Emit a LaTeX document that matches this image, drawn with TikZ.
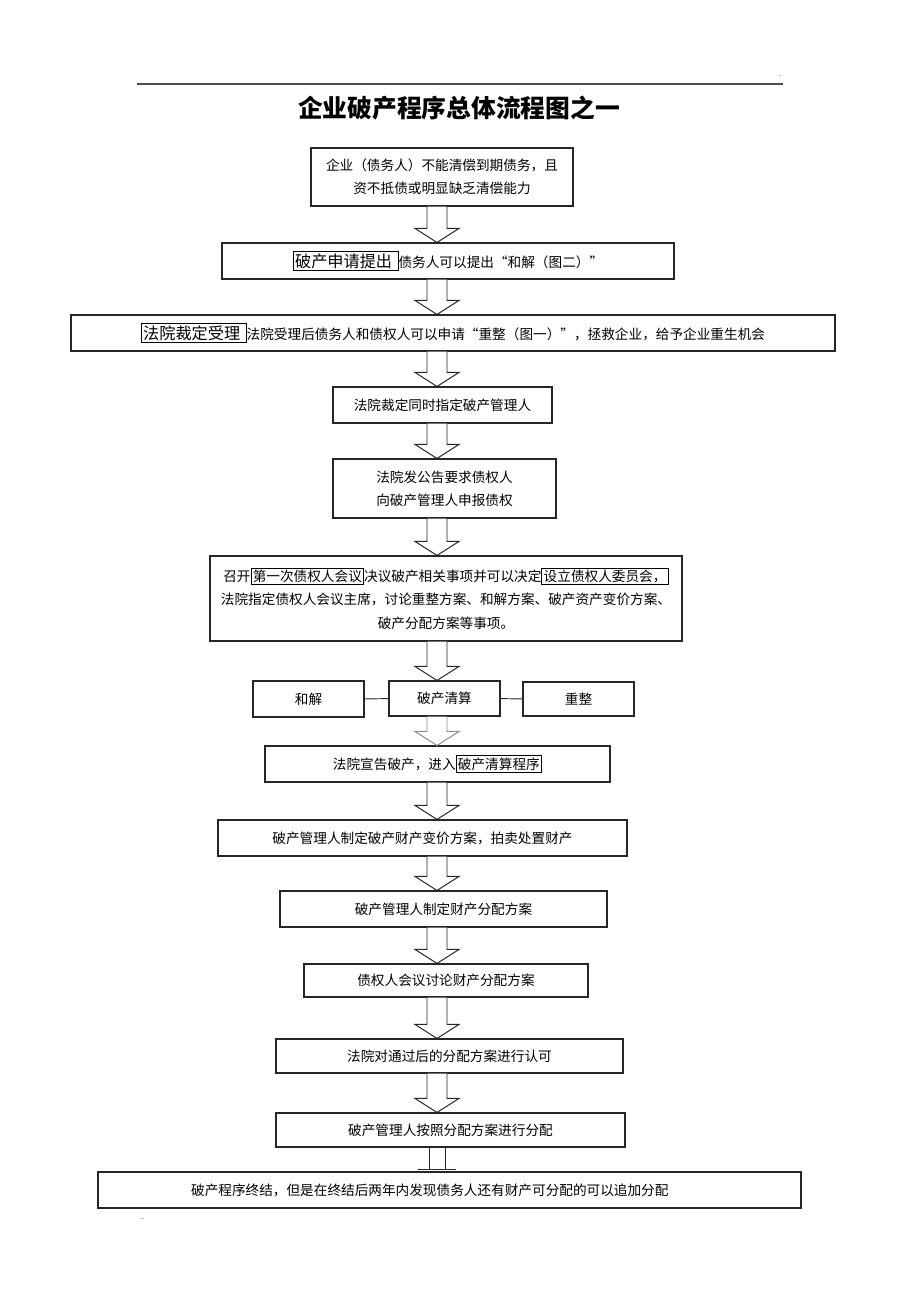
\documentclass[tikz,border=0pt]{standalone}
\usepackage{fontspec}
\setmainfont{Noto Sans CJK SC}
\usepackage{tikz}
\usetikzlibrary{positioning,calc}

\newcommand{\pxu}{0.025cm}
\newcommand{\bodyfont}{\fontsize{9.7}{16.5}\selectfont}
\newcommand{\tagfont}{\fontsize{11.5}{14}\selectfont}
\setlength{\fboxsep}{1pt}
\setlength{\fboxrule}{0.6pt}

\tikzstyle{passo} = [rectangle, draw=black!85, line width=0.8pt, inner sep=0pt, align=center, font=\bodyfont]
\tikzstyle{freccia} = [draw=black!85, line width=0.7pt, fill=white, line join=miter]
\tikzstyle{linea} = [draw=black!85, line width=0.7pt]

% freccia a blocco verso il basso, sull'asse comune
\newcommand{\blockarr}[3][]{%
  \draw[freccia,#1] ($(asse |- #2.south)+(-10,0)$) -- ($(asse |- #3.north)+(-10,-14)$)
    -- ($(asse |- #3.north)+(-22,-14)$) -- (asse |- #3.north)
    -- ($(asse |- #3.north)+(22,-14)$) -- ($(asse |- #3.north)+(10,-14)$)
    -- ($(asse |- #2.south)+(10,0)$);}

\begin{document}
\begin{tikzpicture}[x=\pxu, y=-\pxu]
\useasboundingbox (0,0) rectangle (920,1302);
\coordinate (asse) at (437,0);

\draw[black!70, line width=1pt] (137,84) -- (783,84);
\node (punto) at (780,76) {\fontsize{5}{5}\selectfont .};
\node (titolo) at (459,108) {\fontsize{17.6}{20}\selectfont\bfseries 企业破产程序总体流程图之一};

\node (p1) at (442,177) [passo, minimum width=262*\pxu, minimum height=58*\pxu] {企业（债务人）不能清偿到期债务，且\\资不抵债或明显缺乏清偿能力};
\node (p2) at (448,261) [passo, minimum width=452*\pxu, minimum height=36*\pxu] {\fbox{\tagfont 破产申请提出\hspace{3pt}}债务人可以提出“和解（图二）”};
\node (p3) at (453,333) [passo, minimum width=764*\pxu, minimum height=36*\pxu] {\fbox{\tagfont 法院裁定受理\hspace{3pt}}法院受理后债务人和债权人可以申请“重整（图一）”，拯救企业，给予企业重生机会};
\node (p4) at (442.5,405) [passo, minimum width=219*\pxu, minimum height=36*\pxu] {法院裁定同时指定破产管理人};
\node (p5) at (444.5,488.5) [passo, minimum width=223*\pxu, minimum height=59*\pxu] {法院发公告要求债权人\\向破产管理人申报债权};
\node (p6) at (446,598.5) [passo, minimum width=472*\pxu, minimum height=85*\pxu] {召开\fbox{第一次债权人会议}决议破产相关事项并可以决定\fbox{设立债权人委员会，}\\法院指定债权人会议主席，讨论重整方案、和解方案、破产资产变价方案、\\破产分配方案等事项。};

\node (r1) at (308.5,699) [passo, minimum width=111*\pxu, minimum height=36*\pxu] {和解};
\node (r2) at (444.5,698.5) [passo, minimum width=111*\pxu, minimum height=35*\pxu] {破产清算};
\node (r3) at (578.5,699) [passo, minimum width=111*\pxu, minimum height=34*\pxu] {重整};
\draw[linea] (r1) -- (r2);
\draw[linea] (r2) -- (r3);

\node (p7) at (437.5,764) [passo, minimum width=345*\pxu, minimum height=36*\pxu] {法院宣告破产，进入\fbox{破产清算程序}};
\node (p8) at (422.5,838) [passo, minimum width=409*\pxu, minimum height=36*\pxu] {破产管理人制定破产财产变价方案，拍卖处置财产};
\node (p9) at (443.5,909) [passo, minimum width=327*\pxu, minimum height=36*\pxu] {破产管理人制定财产分配方案};
\node (p10) at (446,980.5) [passo, minimum width=284*\pxu, minimum height=33*\pxu] {债权人会议讨论财产分配方案};
\node (p11) at (449.5,1056) [passo, minimum width=347*\pxu, minimum height=34*\pxu] {法院对通过后的分配方案进行认可};
\node (p12) at (450.5,1130) [passo, minimum width=349*\pxu, minimum height=34*\pxu] {破产管理人按照分配方案进行分配};
\node (p13) at (449.5,1190) [passo, minimum width=703*\pxu, minimum height=36*\pxu] {破产程序终结，但是在终结后两年内发现债务人还有财产可分配的可以追加分配\hspace{28pt}};
\node (punti) at (142,1219) {\fontsize{5}{5}\selectfont ..};

\blockarr{p1}{p2}
\blockarr{p2}{p3}
\blockarr{p3}{p4}
\blockarr{p4}{p5}
\blockarr{p5}{p6}
\blockarr{p6}{r2}
\blockarr[draw=black!45]{r2}{p7}
\blockarr{p7}{p8}
\blockarr{p8}{p9}
\blockarr{p9}{p10}
\blockarr{p10}{p11}
\blockarr{p11}{p12}

% ultimo collegamento a T
\draw[linea] ($(asse |- p12.south)+(-8,0)$) -- ($(asse |- p13.north)+(-8,-2)$);
\draw[linea] ($(asse |- p12.south)+(8,0)$) -- ($(asse |- p13.north)+(8,-2)$);
\draw[linea] ($(asse |- p13.north)+(-19,-2)$) -- ($(asse |- p13.north)+(19,-2)$);
\end{tikzpicture}
\end{document}
